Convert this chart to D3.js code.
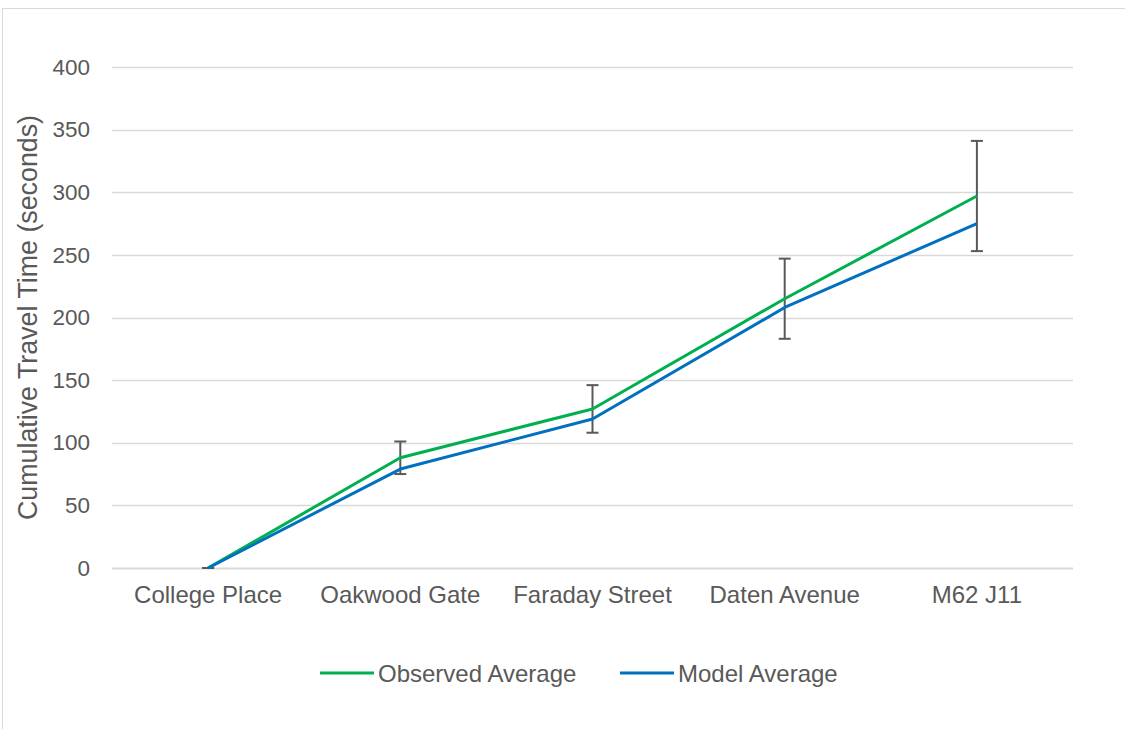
<!DOCTYPE html>
<html>
<head>
<meta charset="utf-8">
<script src="https://cdn.jsdelivr.net/npm/d3@7"></script>
<style>
  html, body { margin: 0; padding: 0; background: #fff; }
  svg { display: block; font-family: "Liberation Sans", Arial, sans-serif; }
</style>
</head>
<body>
<svg id="chart" width="1125" height="729"></svg>
<script>
// Stops along the route
const categories = ["College Place", "Oakwood Gate", "Faraday Street", "Daten Avenue", "M62 J11"];
// Cumulative travel time in seconds
const observedAverage = [0, 88, 127, 215, 297];
const modelAverage = [0, 79, 119, 208, 275];
// Error half-widths around the observed average
const observedError = [0, 13, 19, 32, 44];
const yTicks = [0, 50, 100, 150, 200, 250, 300, 350, 400];

const svg = d3.select("#chart");
const margin = { left: 112, right: 1073, top: 67, bottom: 568 };
const FONT = "Liberation Sans, Arial, sans-serif";
const TEXT = "#595959";

// outer chart frame
svg.append("rect")
  .attr("x", 2.5).attr("y", 8.5)
  .attr("width", 1300).attr("height", 900)
  .attr("fill", "#fff").attr("stroke", "#d9d9d9").attr("stroke-width", 1);

const x = d3.scaleBand().domain(categories).range([margin.left, margin.right]);
const y = d3.scaleLinear().domain([0, 400]).range([margin.bottom, margin.top]);
const cx = d => x(d) + x.bandwidth() / 2;

// horizontal gridlines
svg.append("g").selectAll("line").data(yTicks).join("line")
  .attr("x1", margin.left).attr("x2", margin.right)
  .attr("y1", d => Math.round(y(d)) + 0.5).attr("y2", d => Math.round(y(d)) + 0.5)
  .attr("stroke", "#d9d9d9").attr("stroke-width", d => d === 0 ? 2 : 1.4);

// y axis
const yAxis = svg.append("g")
  .attr("transform", `translate(${margin.left},0)`)
  .call(d3.axisLeft(y).tickValues(yTicks).tickSize(0).tickPadding(22));
yAxis.select(".domain").remove();
yAxis.selectAll("text").attr("fill", TEXT).attr("font-size", 22.5).attr("font-family", FONT);

// x axis
const xAxis = svg.append("g")
  .attr("transform", `translate(0,${margin.bottom})`)
  .call(d3.axisBottom(x).tickSize(0));
xAxis.select(".domain").remove();
xAxis.selectAll("text").attr("fill", TEXT).attr("font-size", 24).attr("font-family", FONT)
  .attr("y", 35).attr("dy", 0);

// y axis title
svg.append("text")
  .attr("transform", `translate(37,${(margin.top + margin.bottom) / 2}) rotate(-90)`)
  .attr("text-anchor", "middle")
  .attr("fill", TEXT).attr("font-size", 26.8).attr("font-family", FONT)
  .text("Cumulative Travel Time (seconds)");

// error bars on the observed series (behind the lines)
const eb = svg.append("g").attr("stroke", "#595959").attr("stroke-width", 2).attr("fill", "none");
categories.forEach((c, i) => {
  const px = cx(c);
  const top = y(observedAverage[i] + observedError[i]);
  const bot = y(observedAverage[i] - observedError[i]);
  eb.append("line").attr("x1", px).attr("x2", px).attr("y1", top).attr("y2", bot);
  eb.append("line").attr("x1", px - 6).attr("x2", px + 6).attr("y1", top).attr("y2", top);
  eb.append("line").attr("x1", px - 6).attr("x2", px + 6).attr("y1", bot).attr("y2", bot);
});

const line = d3.line().x((d, i) => cx(categories[i])).y(d => y(d));

svg.append("path").datum(observedAverage)
  .attr("d", line).attr("fill", "none")
  .attr("stroke", "#00B050").attr("stroke-width", 3).attr("stroke-linejoin", "round");
svg.append("path").datum(modelAverage)
  .attr("d", line).attr("fill", "none")
  .attr("stroke", "#0070C0").attr("stroke-width", 3).attr("stroke-linejoin", "round");

// legend
const legendItems = [
  { label: "Observed Average", color: "#00B050", x: 320 },
  { label: "Model Average", color: "#0070C0", x: 620 }
];
const lg = svg.append("g");
legendItems.forEach(it => {
  lg.append("line").attr("x1", it.x).attr("x2", it.x + 54)
    .attr("y1", 673).attr("y2", 673)
    .attr("stroke", it.color).attr("stroke-width", 3);
  lg.append("text").attr("x", it.x + 58).attr("y", 682)
    .attr("fill", TEXT).attr("font-size", 24).attr("font-family", FONT).text(it.label);
});
</script>
</body>
</html>
